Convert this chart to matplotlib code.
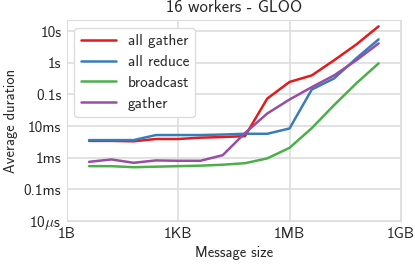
import matplotlib
matplotlib.use("Agg")
import matplotlib.pyplot as plt
import numpy as np
import seaborn as sns

sizes = [4 ** k for k in range(1, 15)]  # 4B .. 256MB

all_gather = [3.4e-3, 3.4e-3, 3.3e-3, 3.9e-3, 3.9e-3, 4.3e-3, 4.5e-3,
              4.8e-3, 0.074, 0.248, 0.40, 1.2, 3.8, 14.2]
all_reduce = [3.6e-3, 3.6e-3, 3.6e-3, 5.2e-3, 5.2e-3, 5.2e-3, 5.4e-3,
              5.7e-3, 5.7e-3, 8.4e-3, 0.143, 0.32, 1.39, 5.5]
broadcast = [5.4e-4, 5.4e-4, 5.0e-4, 5.2e-4, 5.4e-4, 5.6e-4, 6.0e-4,
             6.7e-4, 9.5e-4, 2.05e-3, 8.6e-3, 4.6e-2, 0.225, 0.96]
gather = [7.4e-4, 8.8e-4, 6.9e-4, 8.2e-4, 8.0e-4, 8.0e-4, 1.2e-3,
          6.0e-3, 0.025, 0.069, 0.17, 0.40, 1.2, 4.1]

series = [("all gather", all_gather, "#e41a1c"),
          ("all reduce", all_reduce, "#377eb8"),
          ("broadcast", broadcast, "#4daf4a"),
          ("gather", gather, "#984ea3")]

x_ticks = [2 ** 0, 2 ** 10, 2 ** 20, 2 ** 30]
x_labels = ["1B", "1KB", "1MB", "1GB"]
y_ticks = [1e-5, 1e-4, 1e-3, 1e-2, 1e-1, 1, 10]
y_labels = [r"10$\mu$s", "0.1ms", "1ms", "10ms", "0.1s", "1s", "10s"]

sns.set_style("whitegrid")
plt.rcParams["font.family"] = ["cmss10", "DejaVu Sans"]
plt.rcParams["mathtext.fontset"] = "cm"
plt.rcParams["axes.unicode_minus"] = False

fig = plt.figure(figsize=(4.15, 2.64), dpi=100)
ax = fig.add_axes([0.161, 0.163, 0.805, 0.76])

for name, vals, color in series:
    ax.plot(sizes, vals, color=color, lw=1.8, label=name)

ax.set_xscale("log", base=2)
ax.set_yscale("log")
ax.set_xlim(1, 2 ** 30)
ax.set_ylim(1e-5, 22)
ax.set_xticks(x_ticks)
ax.set_xticklabels(x_labels, fontsize=11)
ax.set_yticks(y_ticks)
ax.set_yticklabels(y_labels, fontsize=11)
ax.minorticks_off()
ax.tick_params(length=0, pad=4)
ax.grid(True, color="#dddddd", lw=1.2)
for s in ax.spines.values():
    s.set_color("#dddddd")

ax.set_xlabel("Message size", fontsize=10.5)
ax.set_ylabel("Average duration", fontsize=10.5)
ax.set_title("16 workers - GLOO", fontsize=12)
ax.legend(loc="upper left", fontsize=11, frameon=True, framealpha=1.0,
          edgecolor="#dddddd", handlelength=2.3, labelspacing=0.45)

fig.savefig("out.png", dpi=100)
